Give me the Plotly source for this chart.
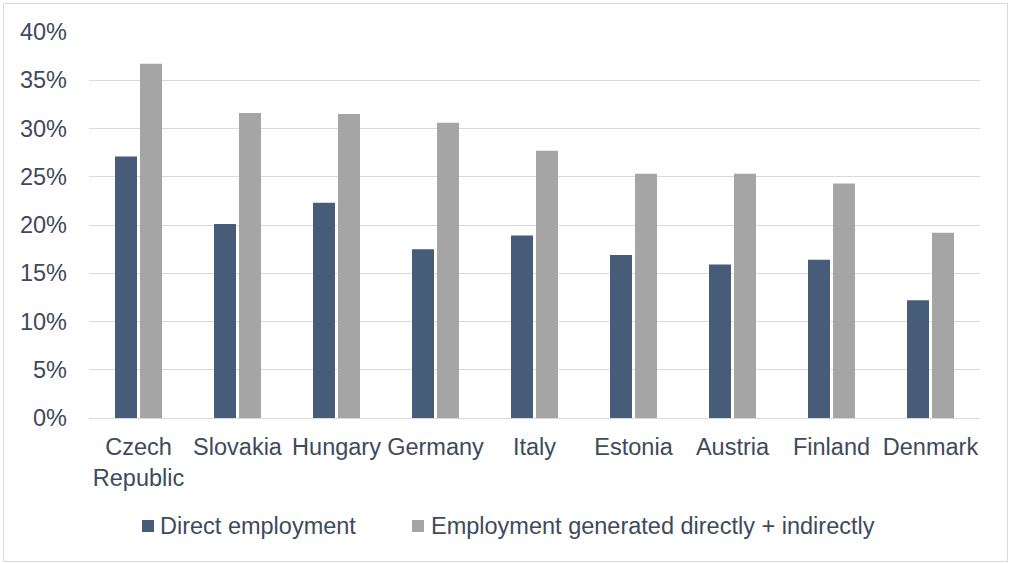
import plotly.graph_objects as go

countries = ["Czech<br>Republic", "Slovakia", "Hungary", "Germany", "Italy",
             "Estonia", "Austria", "Finland", "Denmark"]
direct = [27.1, 20.1, 22.3, 17.5, 18.9, 16.9, 15.9, 16.4, 12.2]
total = [36.7, 31.6, 31.5, 30.6, 27.7, 25.3, 25.3, 24.3, 19.2]
series_names = ["Direct employment", "Employment generated directly + indirectly"]
series_colors = ["#465C78", "#A5A5A5"]
y_ticks = [0, 5, 10, 15, 20, 25, 30, 35, 40]
y_ticklabels = [f"{v}%" for v in y_ticks]

W, H = 1010, 563
ML, MR, MT, MB = 89, 30, 32, 145
TXT = "#3E4A5B"
FONT = "Liberation Sans, Arial, sans-serif"
FS = 23.5

fig = go.Figure()
for vals, name, col in zip([direct, total], series_names, series_colors):
    fig.add_trace(go.Bar(x=countries, y=vals, name=name, showlegend=False,
                         marker=dict(color=col, line=dict(width=0))))

pw = W - ML - MR
ph = H - MT - MB
def px2x(p):
    return (p - ML) / pw
def px2y(p):
    return (H - MB - p) / ph

# outer border
fig.add_shape(type="rect", xref="paper", yref="paper",
              x0=px2x(3.5), x1=px2x(1007.5), y0=px2y(561.5), y1=px2y(3.5),
              line=dict(color="#D9D9D9", width=1), fillcolor="rgba(0,0,0,0)", layer="below")

# legend (manual, to match the compact symbol/text spacing)
legend_sq_x = [142, 412]
legend_txt_x = [158, 429]
for sx, tx, name, col in zip(legend_sq_x, legend_txt_x, series_names, series_colors):
    fig.add_shape(type="rect", xref="paper", yref="paper",
                  x0=px2x(sx), x1=px2x(sx + 12), y0=px2y(532), y1=px2y(520),
                  line=dict(width=0), fillcolor=col)
    fig.add_annotation(xref="paper", yref="paper", x=px2x(tx), y=px2y(526),
                       xanchor="left", yanchor="middle", showarrow=False,
                       text=name, font=dict(size=FS, color=TXT, family=FONT))

fig.update_layout(
    width=W, height=H,
    margin=dict(l=ML, r=MR, t=MT, b=MB, autoexpand=False),
    paper_bgcolor="white", plot_bgcolor="white",
    barmode="group", bargap=0.495, bargroupgap=0.12,
    font=dict(family=FONT, size=FS, color=TXT),
    showlegend=False,
    xaxis=dict(showgrid=False, showline=True, linecolor="#D9D9D9", linewidth=1,
               ticks="", tickfont=dict(size=FS, color=TXT), ticklabelstandoff=8,
               fixedrange=True),
    yaxis=dict(range=[0, 40], tickvals=y_ticks, ticktext=y_ticklabels,
               showgrid=True, gridcolor="#D9D9D9", gridwidth=1, zeroline=False,
               showline=False, ticks="", tickfont=dict(size=FS, color=TXT),
               ticklabelstandoff=21, fixedrange=True),
)

fig.write_html("out.html")
